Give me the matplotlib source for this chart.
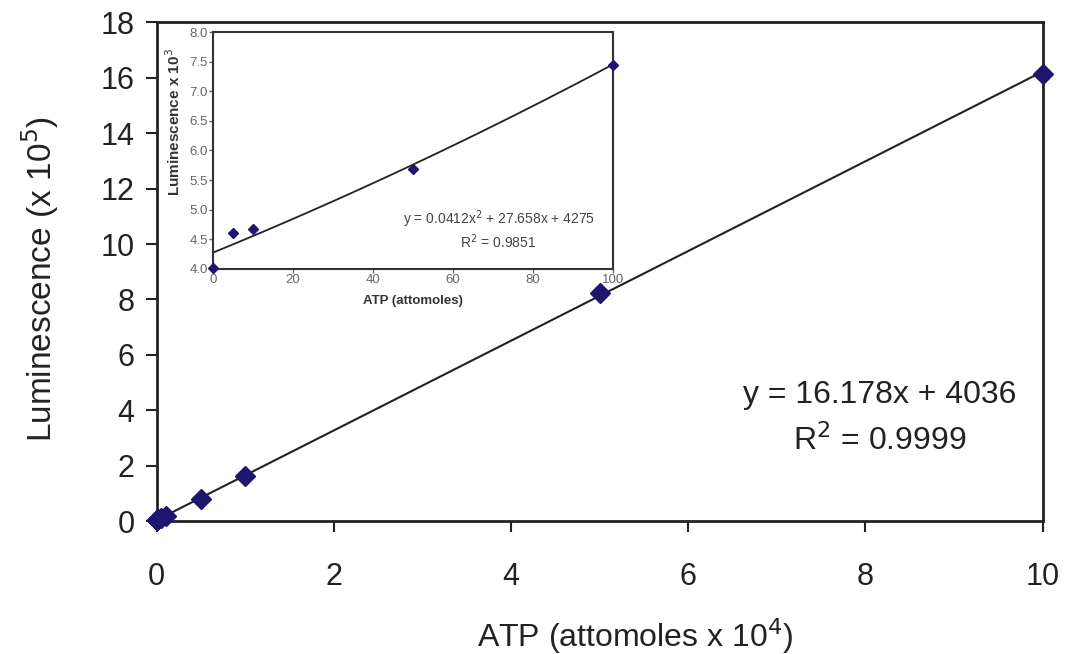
import matplotlib
matplotlib.use('Agg')
import matplotlib.pyplot as plt
import numpy as np

plt.rcParams['font.family'] = ['Liberation Sans', 'DejaVu Sans']

# main plot data (ATP x 10^4 attomoles, luminescence x 10^5)
atp_main = [0, 0.0005, 0.001, 0.005, 0.01, 0.05, 0.1, 0.5, 1, 5, 10]
lum_main = [0.040, 0.046, 0.047, 0.057, 0.075, 0.12, 0.20, 0.80, 1.63, 8.22, 16.15]
slope_main = 1.6178
icpt_main = 0.04036

# inset data (ATP attomoles, luminescence x 10^3)
atp_ins = [0, 5, 10, 50, 100]
lum_ins = [4.02, 4.60, 4.68, 5.68, 7.45]
quad_coef = [0.0412e-3, 27.658e-3, 4.275]

mark_col = '#1f1670'
txt_col = '#222222'

fig = plt.figure(figsize=(10.66, 6.54), dpi=100)
ax = fig.add_axes([0.147, 0.203, 0.831, 0.763])

xl = np.linspace(0, 10, 50)
ax.plot(xl, slope_main * xl + icpt_main, color='#222222', lw=1.5, zorder=2)
ax.plot(atp_main, lum_main, linestyle='none', marker='D', ms=10,
        color=mark_col, clip_on=False, zorder=3)

ax.set_xlim(0, 10)
ax.set_ylim(0, 18)
ax.set_xticks(range(0, 11, 2))
ax.set_yticks(range(0, 19, 2))
ax.tick_params(direction='out', length=8, width=1.5, labelsize=22,
               colors=txt_col, top=False, right=False)
ax.tick_params(axis='x', pad=21)
ax.tick_params(axis='y', pad=8)
for s in ax.spines.values():
    s.set_linewidth(2)
    s.set_color('#222222')
ax.set_xlabel('ATP (attomoles x 10$^4$)', fontsize=23, color=txt_col)
ax.set_ylabel('Luminescence (x 10$^5$)', fontsize=24, color=txt_col)
ax.xaxis.set_label_coords(0.54, -0.19)
ax.yaxis.set_label_coords(-0.108, 0.485)

ax.text(8.16, 4.55, 'y = 16.178x + 4036', fontsize=23, ha='center', va='center', color=txt_col)
ax.text(8.16, 2.9, 'R$^2$ = 0.9999', fontsize=23, ha='center', va='center', color=txt_col)

# inset
ins = fig.add_axes([0.200, 0.589, 0.375, 0.362])
xq = np.linspace(0, 100, 100)
ins.plot(xq, np.polyval(quad_coef, xq), color='#222222', lw=1.3, zorder=2)
ins.plot(atp_ins, lum_ins, linestyle='none', marker='D', ms=5,
         color=mark_col, clip_on=False, zorder=3)
ins.set_xlim(0, 100)
ins.set_ylim(4.0, 8.0)
ins.set_xticks(range(0, 101, 20))
ins.set_yticks(np.arange(4.0, 8.01, 0.5))
ins.set_yticklabels(['%.1f' % v for v in np.arange(4.0, 8.01, 0.5)])
ins.tick_params(direction='out', length=3, width=1, labelsize=9.5,
                colors='#666666', pad=1, top=False, right=False)
for s in ins.spines.values():
    s.set_linewidth(1.5)
    s.set_color('#333333')
ins.set_xlabel('ATP (attomoles)', fontsize=9.5, fontweight='bold', color='#333333', labelpad=6)
ins.set_ylabel('Luminescence x 10$^3$', fontsize=11, fontweight='bold', color='#333333')
ins.yaxis.set_label_coords(-0.075, 0.62)
ins.text(71.4, 4.83, 'y = 0.0412x$^2$ + 27.658x + 4275', fontsize=10, ha='center',
         va='center', color='#444444')
ins.text(71.4, 4.46, 'R$^2$ = 0.9851', fontsize=10, ha='center', va='center', color='#444444')

fig.savefig('out.png', dpi=100)
